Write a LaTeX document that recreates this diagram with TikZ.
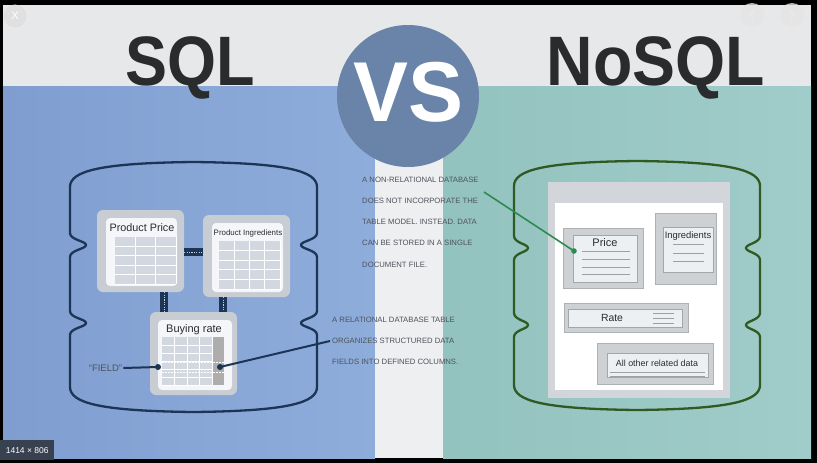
\documentclass[tikz,border=0pt]{standalone}
\usepackage{fontspec}
\setmainfont{Liberation Sans}
\usepackage{xcolor}

\definecolor{sqlblue}{HTML}{8FADDB}
\definecolor{sqlbluedark}{HTML}{7F9DCF}
\definecolor{nosqlteal}{HTML}{93C3BF}
\definecolor{nosqltealb}{HTML}{A0CCC9}
\definecolor{topgray}{HTML}{E7E8EA}
\definecolor{stripwhite}{HTML}{EEEFF1}
\definecolor{vsblue}{HTML}{6A83A9}
\definecolor{titleink}{HTML}{2A2B2D}
\definecolor{dbnavy}{HTML}{1C3557}
\definecolor{dbgreen}{HTML}{2F5A22}
\definecolor{callgreen}{HTML}{2E8A4E}
\definecolor{boxgray}{HTML}{C8CCD3}
\definecolor{boxwhite}{HTML}{F4F6F9}
\definecolor{cellgray}{HTML}{D3D8E0}
\definecolor{notegray}{HTML}{4E535C}
\definecolor{docgray}{HTML}{D2D5D9}
\definecolor{cardgray}{HTML}{CDD1D4}
\definecolor{cardface}{HTML}{EDF0F2}
\definecolor{labelbg}{HTML}{38414F}

% database outline: colour, left, right, top corner, bottom corner, notch 1, notch 2, depth
\newcommand{\dbshape}[8]{%
    \draw[#1, line width=2.3pt, line join=round]
        (#2,#4+10) .. controls (#2,#4-6) and (#2+30,#4-14) .. ({(#2+#3)/2},#4-15)
        .. controls (#3-30,#4-14) and (#3,#4-6) .. (#3,#4+10)
        -- (#3,#6-12) .. controls (#3,#6-5) and (#3-#8,#6-4) .. (#3-#8,#6)
        .. controls (#3-#8,#6+4) and (#3,#6+5) .. (#3,#6+12)
        -- (#3,#7-12) .. controls (#3,#7-5) and (#3-#8,#7-4) .. (#3-#8,#7)
        .. controls (#3-#8,#7+4) and (#3,#7+5) .. (#3,#7+12)
        -- (#3,#5-10) .. controls (#3,#5+6) and (#3-30,#5+14) .. ({(#2+#3)/2},#5+15)
        .. controls (#2+30,#5+14) and (#2,#5+6) .. (#2,#5-10)
        -- (#2,#7+12) .. controls (#2,#7+5) and (#2+#8,#7+4) .. (#2+#8,#7)
        .. controls (#2+#8,#7-4) and (#2,#7-5) .. (#2,#7-12)
        -- (#2,#6+12) .. controls (#2,#6+5) and (#2+#8,#6+4) .. (#2+#8,#6)
        .. controls (#2+#8,#6-4) and (#2,#6-5) .. (#2,#6-12)
        -- cycle;
}

% table cells: x1, y1, x2, y2, columns, rows
\newcommand{\cellgrid}[6]{%
    \fill[cellgray] (#1,#2) rectangle (#3,#4);
    \foreach \i in {1,...,#5}
        \draw[white, line width=0.7pt] ({#1+(#3-#1)*\i/#5},#2) -- ({#1+(#3-#1)*\i/#5},#4);
    \foreach \j in {1,...,#6}
        \draw[white, line width=0.7pt] (#1,{#2+(#4-#2)*\j/#6}) -- (#3,{#2+(#4-#2)*\j/#6});
}

\tikzset{
    outerbox/.style={fill=boxgray, rounded corners=6pt, inner sep=0pt},
    innerbox/.style={fill=boxwhite, rounded corners=4pt, inner sep=0pt},
    card/.style={fill=cardgray, draw=cardgray!85!black, line width=0.4pt, inner sep=0pt},
    cardin/.style={fill=cardface, draw=cardgray!80!black, line width=0.4pt, inner sep=0pt},
    linkbar/.style={dbnavy, line width=8pt,
        postaction={draw, dbnavy!25!white, line width=0.7pt, dash pattern=on 1.2pt off 1.2pt}},
    note/.style={text=notegray, font=\fontsize{7.7}{21.3}\selectfont, align=left, inner sep=0pt, anchor=west},
    cardline/.style={draw=gray!75, line width=0.6pt},
    callout/.style={dbnavy, line width=2pt},
    bigtitle/.style={anchor=base, text=titleink, font=\fontsize{70}{70}\selectfont\bfseries},
}

\begin{document}
\begin{tikzpicture}[x=1pt, y=-1pt]
    \useasboundingbox (0,0) rectangle (817,463);

    % screen frame and panels
    \fill[black] (0,0) rectangle (817,463);
    \fill[topgray] (3,5) rectangle (811,86);
    \shade[left color=sqlbluedark, right color=sqlblue] (3,86) rectangle (375,458);
    \fill[stripwhite] (375,86) rectangle (443,458);
    \shade[left color=nosqlteal, right color=nosqltealb] (443,86) rectangle (811,458);

    % viewer buttons
    \node[circle, fill=black!12, minimum size=23, inner sep=0] (closebtn) at (15,16) {};
    \node[text=white, font=\fontsize{11}{11}\selectfont] (closex) at (closebtn) {X};
    \foreach \x/\name in {752/prevbtn, 792/nextbtn}
        \node[circle, fill=black!10, fill opacity=0.8, minimum size=24, inner sep=0] (\name) at (\x,15) {};
    \draw[white!92!black, line width=1pt] ([xshift=2]prevbtn.center) ++(0,-5) -- ++(-4,5) -- ++(4,5);
    \draw[white!92!black, line width=1pt] ([xshift=-2]nextbtn.center) ++(0,-5) -- ++(4,5) -- ++(-4,5);

    % titles
    \node[bigtitle] (sqltitle) at (190,85) {\scalebox{0.9}[1]{SQL}};
    \node[bigtitle] (nosqltitle) at (656,85) {\scalebox{0.92}[1]{NoSQL}};
    \node[circle, fill=vsblue, minimum size=142, inner sep=0] (vs) at (408,96) {};
    \node[text=white, font=\fontsize{85}{85}\selectfont\bfseries] (vstext) at (408,92) {\scalebox{0.97}[1]{VS}};

    % relational database
    \dbshape{dbnavy}{70}{317}{177}{397}{245}{323}{16}

    \node[outerbox, minimum width=87, minimum height=82] (pp) at (140.5,251) {};
    \node[innerbox, minimum width=71, minimum height=68] (ppin) at (141.5,252) {};
    \node[text=titleink, font=\fontsize{10.8}{11}\selectfont] (pptitle) at (142,228) {Product Price};
    \cellgrid{115}{237}{176}{284}{3}{5}

    \node[outerbox, minimum width=87, minimum height=82] (pi) at (246.5,256) {};
    \node[innerbox, minimum width=71, minimum height=69] (piin) at (247.5,257.5) {};
    \node[text=titleink, font=\fontsize{7.9}{8}\selectfont] (pititle) at (248,233) {Product Ingredients};
    \cellgrid{219}{241}{280}{289}{4}{5}

    \node[outerbox, minimum width=87, minimum height=83] (br) at (193.5,353.5) {};
    \node[innerbox, minimum width=74, minimum height=70] (brin) at (195,355) {};
    \node[text=titleink, font=\fontsize{11}{11}\selectfont] (brtitle) at (194,330) {Buying rate};
    \fill[black!32] (212,337) rectangle (224,385);
    \cellgrid{162}{337}{212}{385}{4}{6}
    \foreach \y in {362,372}
        \draw[white, line width=0.7pt, dash pattern=on 1.5pt off 1.5pt] (162,\y) -- (224,\y);

    % links between tables
    \draw[linkbar] ([yshift=-1]pp.east) -- ([yshift=-1]pp.east -| pi.west);
    \draw[linkbar] ([xshift=23.5]pp.south) -- ([xshift=23.5]pp.south |- br.north);
    \draw[linkbar] ([xshift=-23.5]pi.south) -- ([xshift=-23.5]pi.south |- br.north);

    % field and column callouts
    \node[text=notegray, font=\fontsize{9.5}{10}\selectfont, inner sep=1pt] (fieldlbl) at (105.5,368) {“FIELD”};
    \coordinate (fielddot) at (158,367);
    \coordinate (coldot) at (220,367);
    \node[note] (reltxt) at (332,341) {A RELATIONAL DATABASE TABLE\\ORGANIZES STRUCTURED DATA\\FIELDS INTO DEFINED COLUMNS.};
    \draw[callout] (fieldlbl.east) -- (fielddot);
    \draw[callout] (coldot) -- ([xshift=-2]reltxt.west);
    \fill[dbnavy] (fielddot) circle (3);
    \fill[dbnavy] (coldot) circle (3);

    % non-relational database
    \dbshape{dbgreen}{514}{760}{176}{395}{248}{325}{14}

    \node[fill=docgray, minimum width=182, minimum height=216, inner sep=0] (doc) at (639,290) {};
    \node[fill=white, minimum width=168, minimum height=187, inner sep=0] (docin) at (639,296.5) {};

    \node[card, minimum width=80, minimum height=60] (nprice) at (603,258) {};
    \node[cardin, minimum width=64, minimum height=47] (npricein) at (605,258.5) {};
    \node[text=titleink, font=\fontsize{11}{11}\selectfont] (pricetitle) at (605,243) {Price};
    \foreach \y in {251,259,267,274}
        \draw[cardline] (582,\y) -- (630,\y);

    \node[card, minimum width=61, minimum height=71] (ning) at (685.5,248.5) {};
    \node[cardin, minimum width=50, minimum height=45] (ningin) at (688,249.5) {};
    \node[text=titleink, font=\fontsize{9.4}{10}\selectfont] (ingtitle) at (688,236) {Ingredients};
    \foreach \y in {244,253,261}
        \draw[cardline] (673,\y) -- (704,\y);

    \node[card, minimum width=124, minimum height=29] (nrate) at (626,317.5) {};
    \node[cardin, minimum width=114, minimum height=18] (nratein) at (625,318) {};
    \node[text=titleink, font=\fontsize{10.4}{11}\selectfont] (ratetitle) at (612,318) {Rate};
    \foreach \y in {313,318,323}
        \draw[cardline] (653,\y) -- (674,\y);

    \node[card, minimum width=116, minimum height=41] (nall) at (655,363.5) {};
    \node[cardin, minimum width=101, minimum height=24] (nallin) at (657.5,365) {};
    \node[text=titleink, font=\fontsize{8.9}{9}\selectfont] (alltitle) at (657,363) {All other related data};
    \foreach \y in {372,376}
        \draw[cardline] (610,\y) -- (705,\y);

    % document callout
    \node[note] (nonreltxt) at (362,222) {A NON-RELATIONAL DATABASE\\DOES NOT INCORPORATE THE\\TABLE MODEL. INSTEAD. DATA\\CAN BE STORED IN A SINGLE\\DOCUMENT FILE.};
    \coordinate (nonrelend) at (484,192);
    \coordinate (pricedot) at (574,251);
    \draw[callgreen, line width=1.6pt] (nonrelend) -- (pricedot);
    \fill[callgreen] (pricedot) circle (2.8);

    % image size label
    \node[fill=labelbg, text=white, font=\fontsize{8.5}{10}\selectfont, minimum width=54, minimum height=20,
          inner sep=0, anchor=north west] (dimlbl) at (0,440) {1414 × 806};
\end{tikzpicture}
\end{document}
